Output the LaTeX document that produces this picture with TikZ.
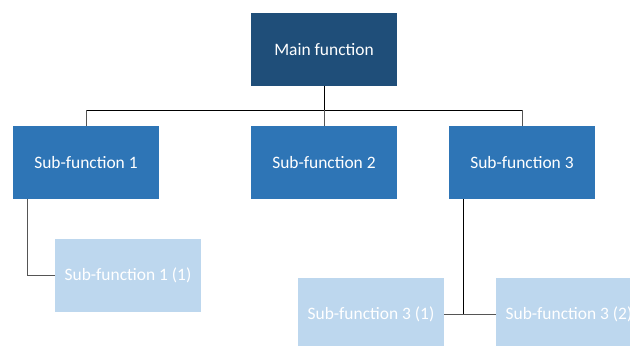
\documentclass[tikz,border=0pt]{standalone}
\usepackage{fontspec}
\setmainfont{Carlito}
\definecolor{mainblue}{HTML}{1F4E79}
\definecolor{subblue}{HTML}{2E75B6}
\definecolor{leafblue}{HTML}{BDD7EE}
\definecolor{linkgray}{HTML}{555555}
\begin{document}
\begin{tikzpicture}[x=1bp,y=-1bp,
  box/.style={minimum width=146bp,minimum height=73bp,inner sep=0pt,text=white,
    font=\fontsize{17.5}{21}\selectfont},
  mainbox/.style={box,fill=mainblue},
  subbox/.style={box,fill=subblue},
  leafbox/.style={box,fill=leafblue},
  link/.style={draw=linkgray,line width=0.9bp},
  trunk/.style={draw=black,line width=0.9bp}]
\useasboundingbox (0,0) rectangle (630,345);
\clip (0,0) rectangle (630,345);
% tree nodes
\node[mainbox] (main) at (324,49.5) {Main function};
\node[subbox] (s1) at (86,162.5) {Sub-function 1};
\node[subbox] (s2) at (324,162.5) {Sub-function 2};
\node[subbox] (s3) at (522,162.5) {Sub-function 3};
\node[leafbox] (s11) at (128,275.5) {Sub-function 1 (1)};
\node[leafbox] (s31) at (371,314.5) {Sub-function 3 (1)};
\node[leafbox] (s32) at (569,314.5) {Sub-function 3 (2)};
% bus below the main function
\coordinate (bus) at (324,110);
\coordinate (j3) at (463,314.5);
\draw[trunk] (main.south) -- (bus);
\draw[trunk] (s1.north |- bus) -- (s3.north |- bus);
\draw[link] (s1.north |- bus) -- (s1.north);
\draw[link] (bus) -- (s2.north);
\draw[link] (s3.north |- bus) -- (s3.north);
% second level
\draw[link] ([xshift=-59bp]s1.south) |- (s11.west);
\draw[trunk] (s3.south -| j3) -- (j3);
\draw[link] (s31.east) -- (s32.west);
\end{tikzpicture}
\end{document}
